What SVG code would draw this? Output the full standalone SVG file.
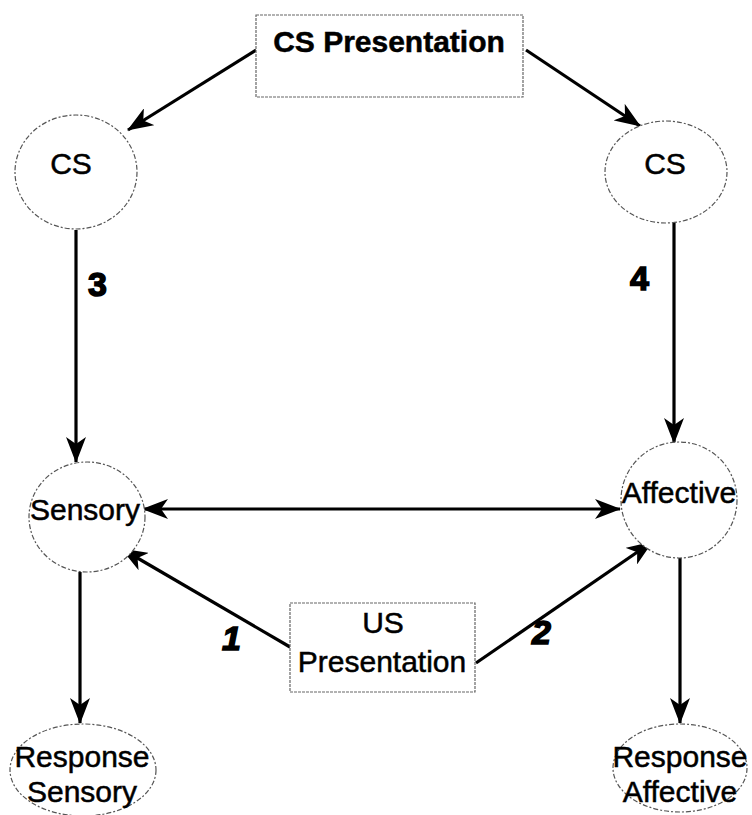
<svg xmlns="http://www.w3.org/2000/svg" width="752" height="815" viewBox="0 0 752 815">
<style>
.node{fill:#fff;stroke:#555;stroke-width:1.2;stroke-dasharray:5 2 2 2}
.box{fill:#fff;stroke:#666;stroke-width:1.2;stroke-dasharray:3 1}
.t{font-family:"Liberation Sans",Arial,sans-serif;fill:#000;stroke:#000;stroke-width:0.5;text-anchor:middle;font-size:30px}
.edge{stroke:#000;stroke-width:3.2;fill:none}
.num{font-family:"Liberation Sans",Arial,sans-serif;font-weight:900;fill:#000;stroke:#000;stroke-width:1.5;font-size:34px}
</style>
<defs>
<marker id="ah" viewBox="0 0 26 20" refX="25" refY="10" markerWidth="26" markerHeight="20" markerUnits="userSpaceOnUse" orient="auto-start-reverse">
<path d="M0,0 L26,10 L0,20 L7,10 Z" fill="#000"/>
</marker>
</defs>
<rect width="752" height="815" fill="#fff"/>
<g id="connectors">
<line class="edge" x1="256" y1="50" x2="128" y2="130" marker-end="url(#ah)"/>
<line class="edge" x1="526" y1="50" x2="640" y2="126" marker-end="url(#ah)"/>
<line class="edge" x1="76" y1="230" x2="76" y2="462" marker-end="url(#ah)"/>
<line class="edge" x1="674" y1="222" x2="674" y2="443" marker-end="url(#ah)"/>
<line class="edge" x1="143" y1="509" x2="620" y2="509" marker-start="url(#ah)" marker-end="url(#ah)"/>
<line class="edge" x1="290" y1="647" x2="122" y2="549" marker-end="url(#ah)"/>
<line class="edge" x1="476" y1="663" x2="652" y2="542" marker-end="url(#ah)"/>
<line class="edge" x1="80" y1="572" x2="80" y2="723" marker-end="url(#ah)"/>
<line class="edge" x1="680" y1="558" x2="680" y2="723" marker-end="url(#ah)"/>
<text class="num" x="88" y="296">3</text>
<text class="num" x="630" y="290">4</text>
<text class="num" x="222" y="650" font-style="italic">1</text>
<text class="num" x="532" y="644" font-style="italic">2</text>
</g>
<g id="cs-presentation">
<rect class="box" x="256" y="15" width="267" height="82"/>
<text class="t" x="389" y="52" font-weight="bold">CS Presentation</text>
</g>
<g id="cs-left">
<ellipse class="node" cx="76" cy="172" rx="61" ry="57"/>
<text class="t" x="71" y="174">CS</text>
</g>
<g id="cs-right">
<ellipse class="node" cx="666" cy="172" rx="61" ry="51"/>
<text class="t" x="665" y="174">CS</text>
</g>
<g id="sensory">
<ellipse class="node" cx="87" cy="517" rx="58" ry="55"/>
<text class="t" x="85" y="520">Sensory</text>
</g>
<g id="affective">
<ellipse class="node" cx="679" cy="500" rx="58" ry="58"/>
<text class="t" x="679" y="503">Affective</text>
</g>
<g id="us-presentation">
<rect class="box" x="290" y="603" width="185" height="89"/>
<text class="t" x="383" y="633">US</text>
<text class="t" x="382" y="672">Presentation</text>
</g>
<g id="response-sensory">
<ellipse class="node" cx="83" cy="770" rx="73" ry="46"/>
<text class="t" x="82" y="767">Response</text>
<text class="t" x="82" y="802">Sensory</text>
</g>
<g id="response-affective">
<ellipse class="node" cx="680" cy="768" rx="67" ry="44"/>
<text class="t" x="680" y="767">Response</text>
<text class="t" x="680" y="802">Affective</text>
</g>
</svg>
